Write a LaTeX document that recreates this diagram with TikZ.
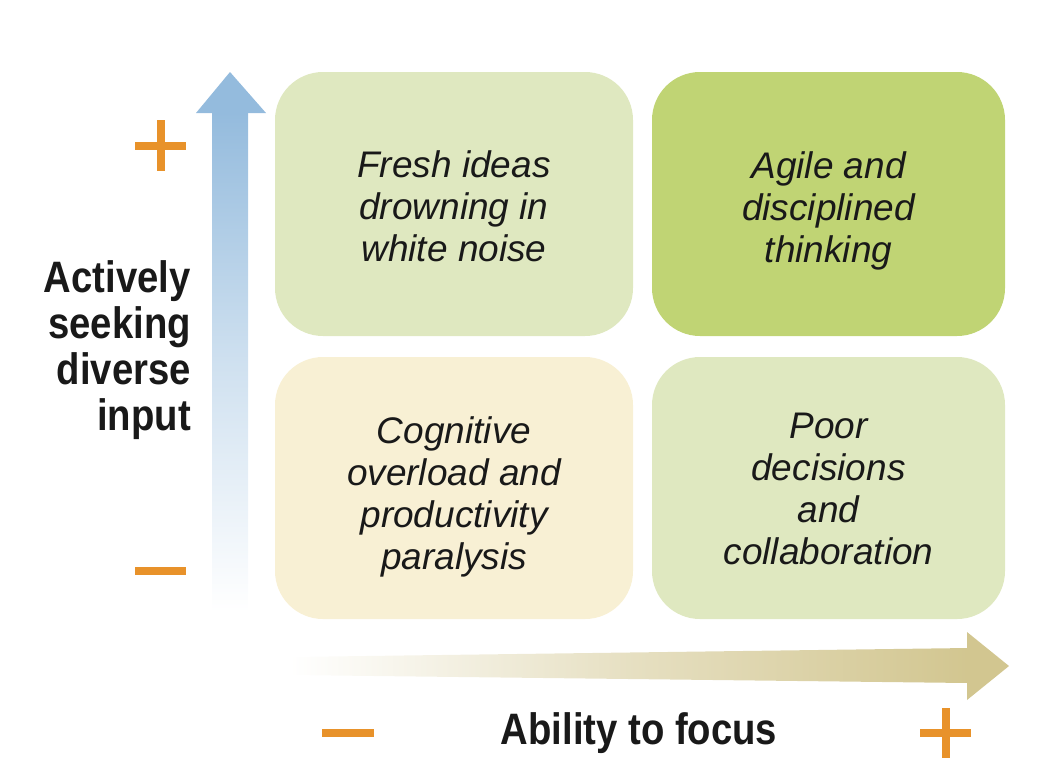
\documentclass[tikz,border=0pt]{standalone}
\usepackage{fontspec}
\setmainfont{Liberation Sans}
\newfontfamily\condbold[FakeStretch=0.87]{Liberation Sans Bold}
\definecolor{lightgreen}{HTML}{DFE8C0}
\definecolor{midgreen}{HTML}{C0D474}
\definecolor{cream}{HTML}{F8F0D4}
\definecolor{axisblue}{HTML}{94BBDD}
\definecolor{axistan}{HTML}{D2C690}
\definecolor{signorange}{HTML}{E8922A}
\tikzset{
  quad/.style={rounded corners=48pt, minimum width=358pt, minimum height=264pt, inner sep=0pt,
    align=center, font=\fontsize{37}{42}\selectfont\itshape, text=black!90},
  axislabel/.style={font=\condbold\fontsize{44}{46}\selectfont, text=black!90, inner sep=0pt},
  sign/.style={signorange, line width=8pt},
}
\begin{document}
\begin{tikzpicture}[x=1pt,y=-1pt]
\useasboundingbox (0,0) rectangle (1054,764);
% quadrants
\node[quad, fill=lightgreen] (tl) at (454,204) {};
\node[quad, fill=midgreen, minimum width=353pt] (tr) at (828.5,204) {};
\node[quad, fill=cream, minimum height=262pt] (bl) at (454,488) {};
\node[quad, fill=lightgreen, minimum width=353pt, minimum height=262pt] (br) at (828.5,488) {};
\node[quad, draw=none, minimum width=0pt, minimum height=0pt] (tlt) at ([yshift=-2pt]tl.center) {Fresh ideas\\drowning in\\white noise};
\node[quad, draw=none, minimum width=0pt, minimum height=0pt] (trt) at ([yshift=-7pt]tr.center) {Agile and\\disciplined\\thinking};
\node[quad, draw=none, minimum width=0pt, minimum height=0pt] (blt) at ([yshift=-9pt]bl.center) {Cognitive\\overload and\\productivity\\paralysis};
\node[quad, draw=none, minimum width=0pt, minimum height=0pt] (brt) at ([yshift=-1pt]br.center) {Poor\\decisions\\and\\collaboration};
% vertical axis arrow
\shade[top color=axisblue, bottom color=white, middle color=axisblue!45] (212,112) rectangle (248,612);
\fill[axisblue] (196,113) -- (230,72) -- (266,113) -- cycle;
% horizontal axis arrow
\shade[left color=white, right color=axistan, middle color=axistan!55] (290,657) -- (968,648) -- (968,683) -- (290,675) -- cycle;
\fill[axistan] (967,632) -- (1009,666) -- (967,700) -- cycle;
% signs
\draw[sign] (135,146) -- (186,146) (160.5,120) -- (160.5,171);
\draw[sign] (135,571) -- (186,571);
\draw[sign] (322,733) -- (374,733);
\draw[sign] (920,733) -- (971,733) (945.5,708) -- (945.5,758);
% labels
\node[axislabel, anchor=east, align=right] (ylab) at (191,350) {Actively\\seeking\\diverse\\input};
\node[axislabel] (xlab) at (639,733) {Ability to focus};
\end{tikzpicture}
\end{document}
